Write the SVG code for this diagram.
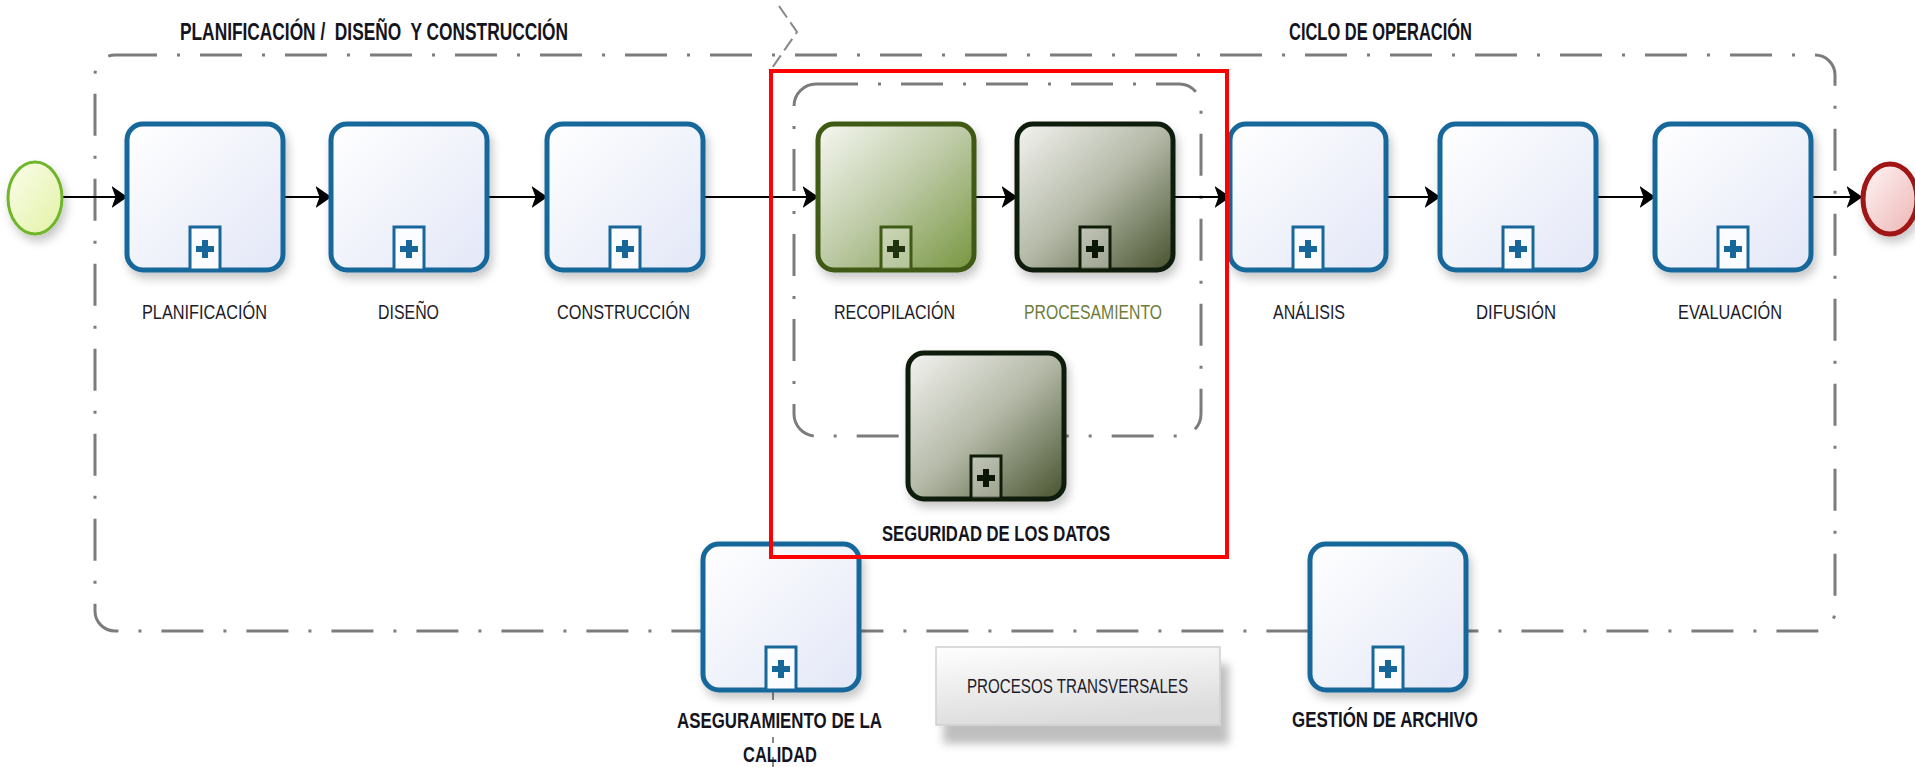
<svg xmlns="http://www.w3.org/2000/svg" width="1915" height="767" viewBox="0 0 1915 767">
<style>
.frame{fill:none;stroke:#7c7c7c;stroke-width:3;stroke-dasharray:42 20 3 20}
.task{stroke:#18679b;stroke-width:5;fill:url(#gBlue)}
.mk{stroke:#18679b;stroke-width:3;fill:#fbfcff}
.plus{fill:#18679b}
.taskG{stroke:#3f5a14;stroke-width:5;fill:url(#gGreen)}
.taskD{stroke:#101c08;stroke-width:5;fill:url(#gDark)}
.mkG{stroke:#3f5a14;stroke-width:3;fill:#ffffff;fill-opacity:0.3}
.mkD{stroke:#101c08;stroke-width:3;fill:#ffffff;fill-opacity:0.3}
.plusG{fill:#1f3210}
.plusD{fill:#0c1606}
.flow{stroke:#000;stroke-width:2.2;fill:none;marker-end:url(#arrow)}
.lbl{font-family:'Liberation Sans Narrow','Liberation Sans',Arial,sans-serif;font-size:21px;fill:#1c1c2c}
.b{font-weight:bold;font-size:22px;fill:#141420}
.ttl{font-weight:bold;font-size:23px;fill:#141420}
</style>
<defs>
<linearGradient id="gBlue" x1="0" y1="0" x2="1" y2="1">
<stop offset="0" stop-color="#ffffff"/><stop offset="1" stop-color="#e3e7f7"/>
</linearGradient>
<linearGradient id="gGreen" x1="0" y1="0" x2="1" y2="1">
<stop offset="0" stop-color="#f6f8f2"/><stop offset="0.5" stop-color="#bcc9a4"/><stop offset="1" stop-color="#77963f"/>
</linearGradient>
<linearGradient id="gDark" x1="0" y1="0" x2="1" y2="1">
<stop offset="0" stop-color="#f4f4f1"/><stop offset="0.5" stop-color="#b3b8a6"/><stop offset="1" stop-color="#47522e"/>
</linearGradient>
<linearGradient id="gStart" x1="0" y1="0" x2="1" y2="1">
<stop offset="0" stop-color="#fbfdec"/><stop offset="1" stop-color="#e2f2a4"/>
</linearGradient>
<linearGradient id="gEnd" x1="0" y1="0" x2="1" y2="1">
<stop offset="0" stop-color="#fff6f6"/><stop offset="1" stop-color="#eeb4b4"/>
</linearGradient>
<linearGradient id="gNote" x1="0" y1="0" x2="0.3" y2="1">
<stop offset="0" stop-color="#ffffff"/><stop offset="1" stop-color="#dcdcdc"/>
</linearGradient>
<filter id="sh" x="-20%" y="-20%" width="150%" height="150%">
<feDropShadow dx="3" dy="6" stdDeviation="5" flood-color="#000" flood-opacity="0.22"/>
</filter>
<filter id="shN" x="-20%" y="-20%" width="150%" height="170%">
<feDropShadow dx="8" dy="18" stdDeviation="4" flood-color="#000" flood-opacity="0.25"/>
</filter>
<marker id="arrow" markerUnits="userSpaceOnUse" viewBox="0 0 16 22" refX="15.5" refY="11" markerWidth="16" markerHeight="22" orient="auto">
<path d="M0,0 L16,11 L0,22 L4,11 Z" fill="#000"/>
</marker>
</defs>
<rect width="1915" height="767" fill="#ffffff"/>

<g id="frames">
<rect class="frame" x="95" y="55" width="1740" height="576" rx="20"/>
<rect class="frame" x="794" y="84" width="407" height="352" rx="22"/>
<polyline points="779,6 797,32 772,68" fill="none" stroke="#888" stroke-width="2" stroke-dasharray="14 6"/>
<line x1="773" y1="690" x2="773" y2="700" stroke="#888" stroke-width="2"/>
<line x1="773" y1="737" x2="773" y2="743" stroke="#888" stroke-width="2"/>
<line x1="773" y1="757" x2="773" y2="767" stroke="#888" stroke-width="2"/>
</g>

<g id="titles">
<text class="lbl ttl" x="180" y="40" textLength="388" lengthAdjust="spacingAndGlyphs" xml:space="preserve">PLANIFICACIÓN /  DISEÑO  Y CONSTRUCCIÓN</text>
<text class="lbl ttl" x="1289" y="40" textLength="183" lengthAdjust="spacingAndGlyphs">CICLO DE OPERACIÓN</text>
</g>

<g id="connectors">
<path class="flow" d="M63,197 H127"/>
<path class="flow" d="M283,197 H331"/>
<path class="flow" d="M487,197 H547"/>
<path class="flow" d="M703,197 H818"/>
<path class="flow" d="M974,197 H1017"/>
<path class="flow" d="M1173,197 H1230"/>
<path class="flow" d="M1386,197 H1440"/>
<path class="flow" d="M1596,197 H1655"/>
<path class="flow" d="M1811,197 H1862"/>
</g>

<g id="start">
<ellipse cx="35" cy="198" rx="27" ry="36" fill="url(#gStart)" stroke="#6fb52a" stroke-width="3" filter="url(#sh)"/>
</g>
<g id="end">
<ellipse cx="1890" cy="199" rx="27" ry="35" fill="url(#gEnd)" stroke="#a01212" stroke-width="5" filter="url(#sh)"/>
</g>

<g id="planificacion">
<rect class="task" x="127" y="124" width="156" height="146" rx="16" filter="url(#sh)"/>
<rect class="mk" x="190" y="227" width="30" height="43"/>
<rect class="plus" x="196" y="246" width="18" height="6"/><rect class="plus" x="202" y="240" width="6" height="18"/>
<text class="lbl" x="142" y="319" textLength="125" lengthAdjust="spacingAndGlyphs">PLANIFICACIÓN</text>
</g>
<g id="diseno">
<rect class="task" x="331" y="124" width="156" height="146" rx="16" filter="url(#sh)"/>
<rect class="mk" x="394" y="227" width="30" height="43"/>
<rect class="plus" x="400" y="246" width="18" height="6"/><rect class="plus" x="406" y="240" width="6" height="18"/>
<text class="lbl" x="378" y="319" textLength="61" lengthAdjust="spacingAndGlyphs">DISEÑO</text>
</g>
<g id="construccion">
<rect class="task" x="547" y="124" width="156" height="146" rx="16" filter="url(#sh)"/>
<rect class="mk" x="610" y="227" width="30" height="43"/>
<rect class="plus" x="616" y="246" width="18" height="6"/><rect class="plus" x="622" y="240" width="6" height="18"/>
<text class="lbl" x="557" y="319" textLength="133" lengthAdjust="spacingAndGlyphs">CONSTRUCCIÓN</text>
</g>
<g id="recopilacion">
<rect class="taskG" x="818" y="124" width="156" height="146" rx="16" filter="url(#sh)"/>
<rect class="mkG" x="881" y="227" width="30" height="43"/>
<rect class="plusG" x="887" y="246" width="18" height="6"/><rect class="plusG" x="893" y="240" width="6" height="18"/>
<text class="lbl" x="834" y="319" textLength="121" lengthAdjust="spacingAndGlyphs">RECOPILACIÓN</text>
</g>
<g id="procesamiento">
<rect class="taskD" x="1017" y="124" width="156" height="146" rx="16" filter="url(#sh)"/>
<rect class="mkD" x="1080" y="227" width="30" height="43"/>
<rect class="plusD" x="1086" y="246" width="18" height="6"/><rect class="plusD" x="1092" y="240" width="6" height="18"/>
<text class="lbl" x="1024" y="319" textLength="138" lengthAdjust="spacingAndGlyphs" style="fill:#6e7d3b">PROCESAMIENTO</text>
</g>
<g id="seguridad">
<rect class="taskD" x="908" y="353" width="156" height="146" rx="16" filter="url(#sh)"/>
<rect class="mkD" x="971" y="456" width="30" height="43"/>
<rect class="plusD" x="977" y="475" width="18" height="6"/><rect class="plusD" x="983" y="469" width="6" height="18"/>
<text class="lbl b" x="882" y="541" textLength="228" lengthAdjust="spacingAndGlyphs">SEGURIDAD DE LOS DATOS</text>
</g>
<g id="analisis">
<rect class="task" x="1230" y="124" width="156" height="146" rx="16" filter="url(#sh)"/>
<rect class="mk" x="1293" y="227" width="30" height="43"/>
<rect class="plus" x="1299" y="246" width="18" height="6"/><rect class="plus" x="1305" y="240" width="6" height="18"/>
<text class="lbl" x="1273" y="319" textLength="72" lengthAdjust="spacingAndGlyphs">ANÁLISIS</text>
</g>
<g id="difusion">
<rect class="task" x="1440" y="124" width="156" height="146" rx="16" filter="url(#sh)"/>
<rect class="mk" x="1503" y="227" width="30" height="43"/>
<rect class="plus" x="1509" y="246" width="18" height="6"/><rect class="plus" x="1515" y="240" width="6" height="18"/>
<text class="lbl" x="1476" y="319" textLength="80" lengthAdjust="spacingAndGlyphs">DIFUSIÓN</text>
</g>
<g id="evaluacion">
<rect class="task" x="1655" y="124" width="156" height="146" rx="16" filter="url(#sh)"/>
<rect class="mk" x="1718" y="227" width="30" height="43"/>
<rect class="plus" x="1724" y="246" width="18" height="6"/><rect class="plus" x="1730" y="240" width="6" height="18"/>
<text class="lbl" x="1678" y="319" textLength="104" lengthAdjust="spacingAndGlyphs">EVALUACIÓN</text>
</g>
<g id="aseguramiento">
<rect class="task" x="703" y="544" width="156" height="146" rx="16" filter="url(#sh)"/>
<rect class="mk" x="766" y="647" width="30" height="43"/>
<rect class="plus" x="772" y="666" width="18" height="6"/><rect class="plus" x="778" y="660" width="6" height="18"/>
<text class="lbl b" x="677" y="728" textLength="205" lengthAdjust="spacingAndGlyphs">ASEGURAMIENTO DE LA</text>
<text class="lbl b" x="743" y="762" textLength="74" lengthAdjust="spacingAndGlyphs">CALIDAD</text>
</g>
<g id="gestion">
<rect class="task" x="1310" y="544" width="156" height="146" rx="16" filter="url(#sh)"/>
<rect class="mk" x="1373" y="647" width="30" height="43"/>
<rect class="plus" x="1379" y="666" width="18" height="6"/><rect class="plus" x="1385" y="660" width="6" height="18"/>
<text class="lbl b" x="1292" y="727" textLength="186" lengthAdjust="spacingAndGlyphs">GESTIÓN DE ARCHIVO</text>
</g>
<g id="procesos-transversales">
<rect x="936" y="647" width="284" height="78" fill="url(#gNote)" stroke="#cfcfcf" stroke-width="1.5" filter="url(#shN)"/>
<text class="lbl" x="967" y="693" textLength="221" lengthAdjust="spacingAndGlyphs">PROCESOS TRANSVERSALES</text>
</g>
<g id="highlight">
<rect x="771" y="71" width="456" height="486" fill="none" stroke="#ff0000" stroke-width="4"/>
</g>
</svg>
